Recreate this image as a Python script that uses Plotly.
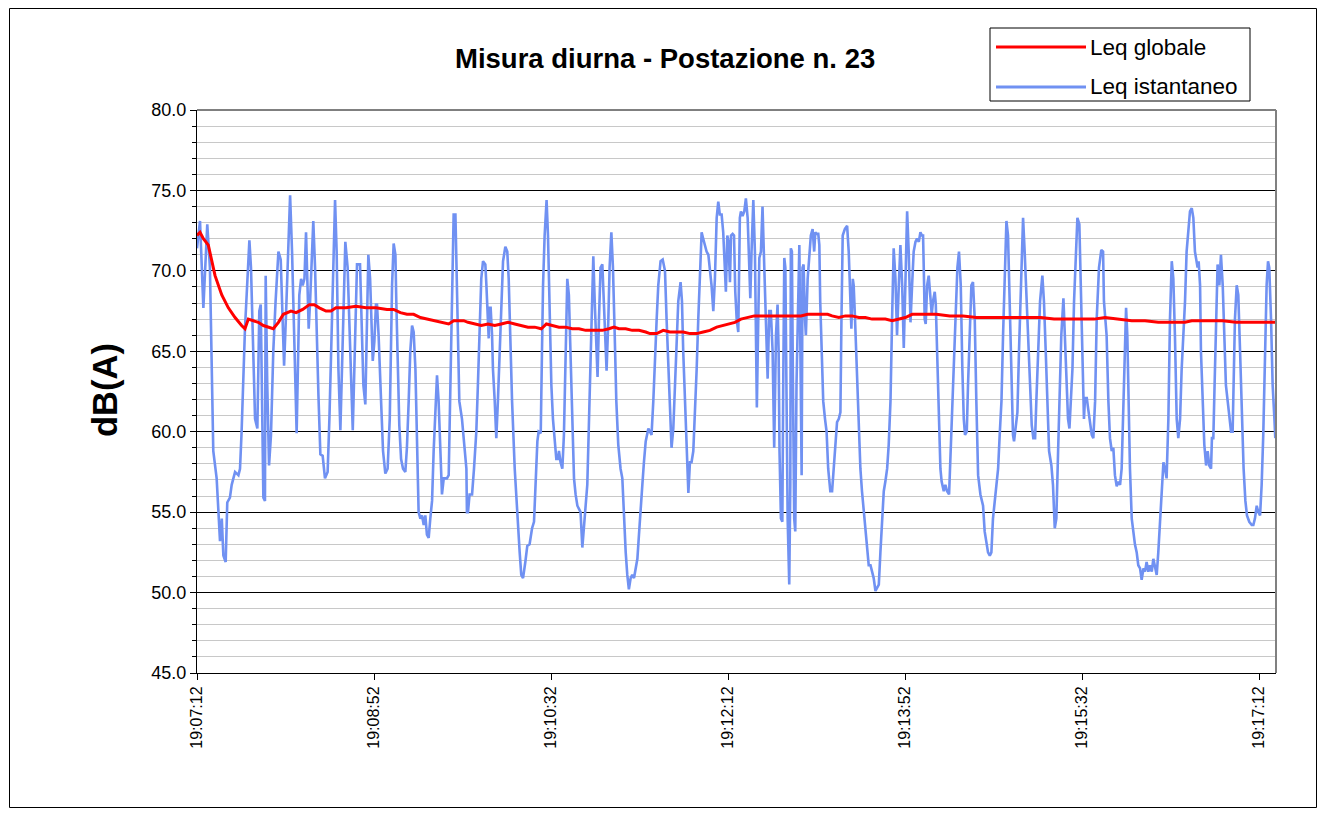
import plotly.graph_objects as go

# ---------------- data ----------------
title_text = "Misura diurna - Postazione n. 23"
y_title = "dB(A)"
legend_labels = ["Leq globale", "Leq istantaneo"]

# seconds from 19:07:12 and tick labels
tick_seconds = [0, 100, 200, 300, 400, 500, 600]
tick_labels = ["19:07:12", "19:08:52", "19:10:32", "19:12:12",
               "19:13:52", "19:15:32", "19:17:12"]

# Leq istantaneo (time offset in s, level in dB(A))
inst_t = [
    0.0, 1.7, 3.6, 5.8, 7.3, 8.3, 9.2, 11.1, 12.1, 13.0, 14.0, 14.9, 16.2, 17.1, 18.6, 19.6,
    21.5, 23.4, 24.3, 25.2, 27.1, 28.6, 29.6, 30.5, 31.8, 32.8, 34.1, 35.2, 36.0, 36.5, 37.5,
    38.4, 38.8, 39.7, 40.7, 41.8, 43.1, 44.4, 46.0, 47.3, 48.2, 49.2, 50.3,
    52.6, 53.7, 55.0, 56.3, 57.8, 58.8, 59.7, 60.7, 61.6, 62.5, 63.1, 63.9, 65.0, 65.7, 66.7,
    67.6, 68.6, 69.7, 71.0, 72.3, 73.8, 74.8, 76.1, 77.0, 78.0, 78.9, 79.9, 81.0, 82.3, 83.8,
    85.1, 86.5, 88.0, 88.9, 89.8, 90.4, 92.1, 93.1, 94.0, 95.1, 95.9, 96.8, 97.8, 98.7, 99.3,
    100.2, 101.1,
    101.7, 102.6, 104.0, 105.1, 106.4, 107.7, 108.9, 110.2, 111.1, 112.1, 112.6, 113.4, 114.3,
    115.3, 116.4, 117.7, 118.6, 119.6, 120.5, 121.5, 122.4, 123.4, 124.3, 125.2, 126.2, 127.1,
    128.1, 129.0, 129.9, 130.9, 131.8, 132.8, 133.7, 134.7, 135.6, 136.5, 137.5, 138.4, 139.4,
    140.3, 141.2, 142.2, 143.1, 144.1, 145.0, 146.0, 146.5, 147.5, 148.2, 149.7, 151.0, 152.2,
    152.5, 153.1,
    154.0, 155.4, 156.5, 157.8, 158.7, 159.7, 160.6, 161.6, 162.9, 163.5, 164.0, 164.8, 165.2,
    165.9, 166.7, 167.2, 168.2, 169.1, 170.0, 171.0, 171.9, 172.9, 174.2, 175.3, 176.1, 177.0,
    178.0, 179.5, 181.0, 182.3, 183.2, 184.2, 185.5, 186.6, 187.9, 189.3, 190.4, 191.3, 192.3,
    193.0, 194.2, 194.9, 195.5, 196.4, 197.5, 198.3, 199.2, 200.2, 201.1, 202.1, 203.0, 203.9,
    204.5,
    205.4, 206.4, 207.3, 207.9, 208.3, 209.2, 210.1, 211.1, 212.0, 213.0, 213.9, 214.9, 215.8,
    216.7, 217.7, 218.6, 219.6, 220.5, 221.4, 222.4, 223.3, 223.9, 224.7, 225.6, 226.3, 227.1,
    228.0, 229.0, 229.9, 230.9, 231.4, 232.4, 233.1, 234.1, 235.0, 236.0, 236.9, 238.0, 239.3,
    240.3, 241.2, 242.2, 243.1, 244.0, 245.0, 245.9, 246.9, 247.8, 248.8, 249.7, 250.6, 251.6,
    252.5, 253.5, 255.0, 255.9,
    256.8, 257.8, 258.7, 259.7, 260.6, 261.9, 263.1, 264.4, 265.3, 266.3, 267.2, 268.1, 269.1,
    270.0, 271.0, 271.9, 273.2, 274.0, 274.7, 275.7, 276.6, 277.6, 278.5, 279.4, 280.4, 281.3,
    282.3, 283.2, 284.1, 285.1, 286.0, 287.0, 287.9, 288.9, 289.8, 290.7, 291.7, 292.6, 293.6,
    294.5, 295.4, 296.4, 297.3, 298.3, 298.8, 299.6, 300.3, 301.1, 301.7, 302.6, 303.4, 304.1,
    304.9, 305.8, 306.7, 307.3,
    308.2, 309.2, 310.1, 311.1, 312.0, 312.6, 313.3, 314.3, 315.2, 315.8, 316.3, 317.1, 317.7,
    318.6, 319.5, 320.5, 321.4, 322.4, 323.3, 324.2, 325.2, 326.1, 327.1, 328.0, 328.6, 329.1,
    329.9, 330.7, 331.2, 331.8, 332.4, 332.9, 333.7, 334.6, 335.2, 335.5, 336.1, 336.7, 337.4,
    338.0, 338.7, 340.3, 340.8, 341.6, 342.1, 342.7, 343.5, 344.0, 345.0, 345.9, 346.8, 347.8,
    348.7, 349.3, 350.1, 351.0, 351.6, 352.1, 352.9, 353.8, 354.8, 355.7, 356.6, 357.8,
    358.8, 359.7, 360.7, 361.6, 362.6, 363.5, 364.1, 364.8, 366.0, 367.3, 368.2, 369.2, 369.7,
    370.5, 371.0, 371.6, 372.4, 372.9, 373.9, 374.8, 375.7, 376.7, 377.6, 378.6, 379.5, 380.5,
    381.4, 382.3, 383.3, 384.2, 385.2, 386.1, 387.0, 388.0, 388.9, 389.9, 390.8, 391.8, 392.7,
    393.6, 394.6, 395.5, 396.5, 397.4, 398.4, 399.3, 400.2, 401.2, 402.1, 403.1, 404.0, 404.9,
    405.9, 406.8, 407.8, 408.7, 409.6,
    410.2, 410.8, 411.1, 411.7, 412.5, 413.4, 414.3, 415.1, 415.8, 416.8, 417.4, 418.1, 418.7,
    419.2, 420.0, 420.7, 421.9, 422.8, 423.8, 424.9, 425.8, 426.8, 427.7, 428.7, 429.6, 430.5,
    431.5, 432.4, 433.2, 433.9, 434.9, 435.6, 436.6, 437.5, 438.4, 439.4, 440.3, 441.3, 442.6,
    444.1, 445.0, 446.0, 446.9, 447.9, 448.8, 449.7, 450.7, 451.6, 452.6, 453.5, 454.5, 455.4,
    456.3, 457.3, 458.2, 459.2, 460.1, 461.0, 461.6,
    462.5, 463.5, 464.4, 465.4, 466.3, 466.7, 467.6, 468.8, 469.7, 470.6, 471.6, 472.5, 473.5,
    474.2, 475.2, 476.3, 477.6, 478.5, 479.5, 480.4, 481.4, 482.7, 483.6, 484.6, 485.5, 486.5,
    487.4, 488.3, 489.5, 490.2, 491.2, 492.1, 492.9, 493.6, 494.6, 495.5, 496.4, 497.4, 498.5,
    499.3, 500.2, 501.1, 501.7, 502.7, 503.4, 504.5, 505.5, 506.4, 507.4, 508.3, 509.6, 510.9,
    511.9, 512.4, 513.0,
    513.9, 514.9, 515.8, 516.8, 517.7, 518.6, 519.6, 520.5, 521.5, 522.4, 523.4, 524.3, 524.9,
    525.6, 526.2, 527.1, 528.1, 529.0, 529.9, 530.9, 531.8, 532.8, 533.7, 534.7, 535.6, 536.5,
    537.5, 538.4, 539.4, 540.3, 541.2, 542.2, 543.1, 544.1, 545.0, 546.0, 546.9, 547.8, 548.8,
    549.7, 550.7, 551.6, 552.5, 553.5, 554.4, 555.4, 556.3, 557.3, 558.2, 559.1, 560.1, 561.0,
    562.0, 562.9, 563.8,
    565.3, 565.9, 566.7, 567.2, 568.2, 569.1, 570.1, 571.0, 571.9, 572.9, 573.4, 574.2, 574.9,
    575.7, 576.6, 577.6, 578.5, 579.5, 580.4, 581.3, 582.3, 583.2, 584.2, 585.1, 585.7, 586.4,
    587.4, 588.3, 589.3, 590.4, 591.3, 592.3, 593.2, 594.5, 595.9, 596.8, 597.7, 598.7, 599.6,
    600.6, 601.5, 602.4, 603.4, 604.3, 605.1, 605.8, 606.8, 607.7, 608.7, 609.2,
]
inst_db = [
    71.4, 73.1, 67.7, 72.9, 70.2, 65.0, 58.8, 57.1, 54.6, 53.2, 54.6, 52.3, 51.9, 55.6, 55.9, 56.7,
    57.5, 57.3, 57.7, 60.0, 66.4, 69.9, 71.9, 70.2, 63.9, 60.8, 60.2, 67.5, 67.9, 62.9, 55.9,
    55.7, 69.7, 62.9, 57.9, 59.8, 65.0, 68.1, 71.2, 70.7, 67.5, 64.1, 67.3,
    74.7, 71.2, 65.0, 59.9, 68.5, 69.5, 69.1, 69.5, 72.4, 69.1, 66.4, 68.1, 71.2, 73.1, 70.2,
    66.0, 62.3, 58.6, 58.5, 57.1, 57.5, 60.8, 66.0, 71.2, 74.4, 71.2, 63.9, 60.1, 65.0, 71.8,
    70.2, 65.0, 60.1, 63.9, 69.1, 70.4, 70.4, 67.0, 62.9, 61.7, 66.0, 71.0, 69.5, 66.0, 64.4,
    65.6, 67.9,
    67.9, 66.0, 61.9, 58.8, 57.4, 57.7, 60.8, 69.1, 71.7, 71.0, 68.1, 63.9, 60.4,
    58.3, 57.7, 57.5, 59.0, 61.9, 65.0, 66.6, 66.2, 63.9, 58.8, 55.0, 54.6, 54.8,
    54.2, 54.8, 53.6, 53.4, 54.6, 55.7, 58.8, 61.9, 63.5, 61.9, 58.8, 56.1, 57.1,
    57.1, 57.1, 57.3, 61.9, 68.1, 73.5, 73.5, 71.2, 66.0, 61.9, 60.8, 59.2, 57.7,
    55.0, 55.0,
    56.1, 56.1, 57.7, 60.0, 62.9, 67.0, 69.5, 70.6, 70.4, 69.1, 67.5, 65.8, 67.7,
    67.7, 66.0, 63.9, 61.9, 59.6, 61.9, 65.0, 68.1, 70.6, 71.5, 71.2, 69.5, 66.0,
    61.9, 57.7, 54.6, 52.5, 51.1, 50.9, 51.9, 52.9, 53.0, 54.0, 54.4, 56.7, 59.4,
    60.0, 59.9, 65.0, 69.1, 72.2, 74.4, 72.2, 67.0, 62.9, 60.8, 59.4, 58.3, 58.3,
    58.8,
    58.1, 57.7, 59.8, 62.9, 67.0, 69.5, 68.5, 63.9, 59.8, 57.1, 56.1, 55.4, 55.2,
    55.0, 52.8, 54.0, 55.0, 56.7, 60.4, 65.0, 69.1, 70.9, 68.1, 65.0, 63.4, 67.0,
    70.2, 70.4, 68.1, 65.0, 63.8, 67.0, 70.2, 72.4, 70.2, 66.0, 61.9, 59.2, 57.7,
    57.1, 54.6, 52.5, 51.1, 50.2, 50.9, 51.1, 50.9, 51.5, 52.1, 53.6, 55.4, 56.7,
    58.1, 59.4, 60.2, 60.0,
    59.8, 61.9, 65.0, 67.0, 69.1, 70.6, 70.7, 70.0, 67.0, 63.9, 61.2, 59.0, 60.2,
    62.9, 66.0, 68.1, 69.3, 68.1, 65.0, 61.9, 58.8, 56.2, 58.1, 58.1, 58.8, 60.8,
    63.9, 67.0, 70.2, 72.4, 72.0, 71.6, 71.2, 71.0, 70.2, 69.1, 67.5, 69.5, 73.3,
    74.3, 73.5, 73.5, 72.4, 70.2, 68.7, 72.2, 71.8, 69.3, 72.2, 72.3, 72.2, 68.7,
    67.0, 66.2, 73.3, 73.7,
    73.4, 73.7, 74.5, 73.3, 70.2, 68.3, 71.2, 74.4, 71.2, 67.0, 61.5, 67.0, 70.8,
    71.2, 74.0, 70.2, 66.0, 63.3, 67.5, 67.5, 65.0, 59.0, 66.0, 67.9, 65.0, 58.8,
    54.6, 54.4, 62.9, 70.8, 70.2, 62.9, 54.6, 50.5, 56.7, 71.4, 71.2, 62.9, 54.6,
    53.8, 62.9, 71.6, 65.0, 57.3, 70.2, 70.4, 67.0, 66.0, 69.5, 70.8, 72.2, 72.6,
    71.2, 72.4, 72.3, 72.3, 71.6, 68.1, 65.0, 61.9, 60.8, 60.0, 57.7, 56.3,
    56.3, 57.7, 59.4, 60.6, 60.8, 61.2, 67.0, 72.2, 72.6, 72.8, 71.2, 68.1, 66.4,
    69.5, 69.1, 67.5, 65.0, 62.9, 59.8, 57.7, 56.3, 55.2, 54.0, 53.0, 51.7, 51.7,
    51.3, 50.9, 50.1, 50.3, 50.5, 52.5, 54.6, 56.3, 56.9, 57.7, 59.2, 61.9, 67.0,
    71.4, 69.5, 66.0, 69.1, 71.6, 69.1, 65.2, 69.1, 73.7, 71.2, 66.8, 69.1, 71.2,
    71.8, 72.0, 71.8, 72.4, 72.2,
    72.2, 69.1, 67.0, 66.7, 69.1, 69.7, 68.5, 67.3, 68.1, 68.7, 67.9, 65.0, 62.9,
    59.8, 57.7, 56.9, 56.3, 56.7, 56.3, 56.1, 58.8, 61.9, 65.0, 67.0, 70.2, 71.2,
    69.1, 63.9, 60.8, 59.8, 60.0, 62.9, 67.0, 69.1, 69.3, 67.0, 61.9, 57.3, 56.1,
    55.4, 53.8, 53.0, 52.5, 52.3, 52.5, 54.6, 55.7, 56.3, 57.7, 59.8, 61.9, 66.0,
    70.2, 73.1, 72.2, 68.1, 62.9, 59.8, 59.4,
    60.4, 61.2, 65.0, 69.1, 72.2, 73.3, 71.2, 68.1, 65.0, 62.5, 60.4, 59.6, 59.6,
    61.9, 65.0, 68.1, 69.7, 68.1, 65.0, 61.9, 58.8, 57.9, 56.7, 54.0, 54.6, 58.8,
    62.9, 66.0, 68.3, 66.4, 62.9, 60.8, 60.2, 61.9, 63.9, 68.1, 71.2, 73.3, 72.9,
    69.1, 65.0, 60.8, 62.1, 62.1, 61.5, 60.4, 59.8, 59.6, 61.9, 67.0, 70.2, 71.3,
    71.2, 68.1, 67.0,
    66.0, 61.9, 59.6, 58.8, 59.0, 57.3, 56.6, 56.9, 56.7, 57.7, 61.9, 66.0, 67.7,
    66.0, 61.9, 57.7, 54.6, 53.6, 53.0, 52.5, 51.7, 51.5, 50.8, 51.5, 51.3, 51.9,
    51.3, 51.7, 51.3, 52.1, 51.7, 51.1, 52.5, 54.6, 56.7, 58.1, 57.7, 57.1, 60.8,
    67.0, 70.6, 69.5, 66.0, 60.8, 59.6, 60.8, 63.9, 66.0, 68.1, 71.2, 72.8, 73.7,
    73.9, 73.3, 71.2,
    70.2, 70.6, 69.1, 65.0, 61.9, 59.2, 57.9, 58.8, 57.9, 57.7, 59.6, 59.6, 62.9,
    67.0, 70.4, 69.1, 71.0, 69.1, 66.0, 62.9, 61.9, 60.8, 60.0, 60.0, 62.9, 67.0,
    69.1, 68.5, 65.0, 60.8, 57.7, 55.7, 54.8, 54.4, 54.2, 54.2, 54.6, 55.4, 55.0,
    54.8, 56.7, 59.8, 65.0, 69.1, 70.6, 70.2, 67.0, 62.9, 60.8, 59.6,
]

# Leq globale (running equivalent level)
glob_t = [
    0.0, 1.7, 3.6, 6.4, 10.2, 14.0, 17.7, 21.5, 25.2, 27.1, 29.0, 31.8, 34.6, 37.5, 40.3, 43.1,
    46.0, 48.8, 53.1, 56.0, 59.7, 63.5, 66.3, 69.1, 72.9, 75.7, 78.5, 84.2, 89.8, 95.5, 101.1,
    107.3, 111.1, 114.9, 118.6, 122.4, 126.2, 129.9, 133.7, 137.5, 142.2, 145.0, 147.8, 150.7,
    153.1, 156.9, 160.6, 164.4, 168.2, 171.9, 175.7, 179.5, 183.2, 187.0, 190.8, 194.5, 197.4,
    201.1, 204.5, 208.3, 212.0, 215.8, 219.6, 223.3, 229.0, 232.7, 235.6, 238.4, 242.2, 245.9,
    249.7, 253.5, 255.9, 259.7, 263.4, 267.2, 271.0, 274.7, 278.5, 282.3, 286.0, 289.8, 293.6,
    297.3, 301.1, 303.9, 307.3, 311.1, 314.8, 318.6, 326.1, 333.7, 341.2, 345.0, 348.7, 352.5,
    356.3, 358.8, 362.6, 366.3, 370.1, 373.9, 377.6, 381.4, 385.2, 388.9, 392.7, 396.5, 400.2,
    404.0, 407.8, 410.2, 417.7, 425.3, 432.8, 440.3, 447.9, 455.4, 461.6, 469.1, 476.7, 484.2,
    491.7, 499.3, 506.8, 513.0, 520.5, 528.1, 535.6, 543.1, 550.7, 558.2, 562.0, 564.4, 571.9,
    579.5, 587.0, 594.5, 602.1, 609.2,
]
glob_db = [
    72.2, 72.4, 72.0, 71.6, 69.7, 68.5, 67.7, 67.1, 66.6, 66.4, 67.0, 66.9, 66.8, 66.6, 66.5, 66.4,
    66.8, 67.3, 67.5, 67.4, 67.6, 67.9, 67.9, 67.7, 67.5, 67.5, 67.7, 67.7, 67.8, 67.7, 67.7,
    67.6, 67.6, 67.4, 67.3, 67.3, 67.1, 67.0, 66.9, 66.8, 66.7, 66.9, 66.9, 66.9,
    66.8, 66.7, 66.6, 66.7, 66.6, 66.7, 66.8, 66.7, 66.6, 66.5, 66.5, 66.4, 66.7,
    66.6, 66.5, 66.5, 66.4, 66.4, 66.3, 66.3, 66.3, 66.4, 66.5, 66.4, 66.4, 66.3,
    66.3, 66.2, 66.1, 66.1, 66.3, 66.2, 66.2, 66.2, 66.1, 66.1, 66.2, 66.3, 66.5,
    66.6, 66.7, 66.8, 67.0, 67.1, 67.2, 67.2, 67.2, 67.2, 67.2, 67.3, 67.3, 67.3,
    67.3, 67.2, 67.1, 67.2, 67.2, 67.1, 67.1, 67.0, 67.0, 67.0, 66.9, 67.0, 67.1,
    67.3, 67.3, 67.3, 67.3, 67.2, 67.2, 67.1, 67.1, 67.1, 67.1, 67.1, 67.1, 67.0,
    67.0, 67.0, 67.0, 67.1, 67.0, 66.9, 66.9, 66.8, 66.8, 66.8, 66.9, 66.9, 66.9,
    66.9, 66.8, 66.8, 66.8, 66.8,
]

# ---------------- figure ----------------
# The page places the figure 8 px from the top-left corner (body margin).
OFF = 8
W, H = 1309, 800
L, R, T, B = 197, 1276, 110, 673  # plot-area edges in page pixels


def px(x):
    return (x - L) / (R - L)


def py(y):
    return (B - y) / (B - T)


FONT = 'Arial, "Liberation Sans", sans-serif'
BLUE = "rgb(112,145,242)"
RED = "#ff0000"

fig = go.Figure()
fig.add_trace(go.Scatter(x=inst_t, y=inst_db, mode="lines", name=legend_labels[1],
                         line=dict(color=BLUE, width=2.6), showlegend=False,
                         hoverinfo="skip"))
fig.add_trace(go.Scatter(x=glob_t, y=glob_db, mode="lines", name=legend_labels[0],
                         line=dict(color=RED, width=3), showlegend=False,
                         hoverinfo="skip"))

fig.update_layout(
    width=W, height=H,
    margin=dict(l=L - OFF, r=W + OFF - R, t=T - OFF, b=H + OFF - B, pad=0),
    paper_bgcolor="white", plot_bgcolor="white",
    font=dict(family=FONT, color="black"),
    showlegend=False,
    xaxis=dict(range=[0, 609.6], tickmode="array", tickvals=tick_seconds,
               ticktext=tick_labels, tickangle=-90, ticks="outside", ticklen=6,
               tickcolor="black", showline=True, linecolor="black", linewidth=1,
               showgrid=False, zeroline=False, tickfont=dict(size=16)),
    yaxis=dict(range=[45, 80], tick0=45, dtick=5, tickformat=".1f",
               ticks="outside", ticklen=6, tickcolor="black",
               showline=True, linecolor="black", linewidth=1,
               showgrid=True, gridcolor="black", gridwidth=1, zeroline=False,
               tickfont=dict(size=18),
               minor=dict(dtick=1, showgrid=True, gridcolor="#c8c8c8", gridwidth=1,
                          ticks="outside", ticklen=4, tickcolor="black")),
)

shapes = [
    # outer chart border
    dict(type="rect", xref="paper", yref="paper", x0=px(9.5), x1=px(1316.5),
         y0=py(807.5), y1=py(8.5), line=dict(color="black", width=1), layer="below"),
    # plot-area top and right border
    dict(type="line", xref="paper", yref="paper", x0=0, x1=1, y0=1, y1=1,
         line=dict(color="black", width=1)),
    dict(type="line", xref="paper", yref="paper", x0=1, x1=1, y0=0, y1=1,
         line=dict(color="#808080", width=2)),
    # legend box
    dict(type="rect", xref="paper", yref="paper", x0=px(990), x1=px(1250),
         y0=py(101), y1=py(28), line=dict(color="black", width=1),
         fillcolor="white"),
    dict(type="line", xref="paper", yref="paper", x0=px(996), x1=px(1086),
         y0=py(47), y1=py(47), line=dict(color=RED, width=3)),
    dict(type="line", xref="paper", yref="paper", x0=px(996), x1=px(1086),
         y0=py(87), y1=py(87), line=dict(color=BLUE, width=3)),
]
fig.update_layout(shapes=shapes)

annotations = [
    dict(text="<b>%s</b>" % title_text, xref="paper", yref="paper",
         x=px(665), y=py(58), xanchor="center", yanchor="middle",
         showarrow=False, font=dict(size=27.5, family=FONT)),
    dict(text="<b>%s</b>" % y_title, xref="paper", yref="paper",
         x=px(105), y=py(390), xanchor="center", yanchor="middle",
         textangle=-90, showarrow=False, font=dict(size=34.5, family=FONT)),
    dict(text=legend_labels[0], xref="paper", yref="paper", x=px(1088), y=py(47),
         xanchor="left", yanchor="middle", showarrow=False,
         font=dict(size=22.5, family=FONT)),
    dict(text=legend_labels[1], xref="paper", yref="paper", x=px(1088), y=py(87),
         xanchor="left", yanchor="middle", showarrow=False,
         font=dict(size=22.5, family=FONT)),
]
fig.update_layout(annotations=annotations)

fig.write_html("out.html")
